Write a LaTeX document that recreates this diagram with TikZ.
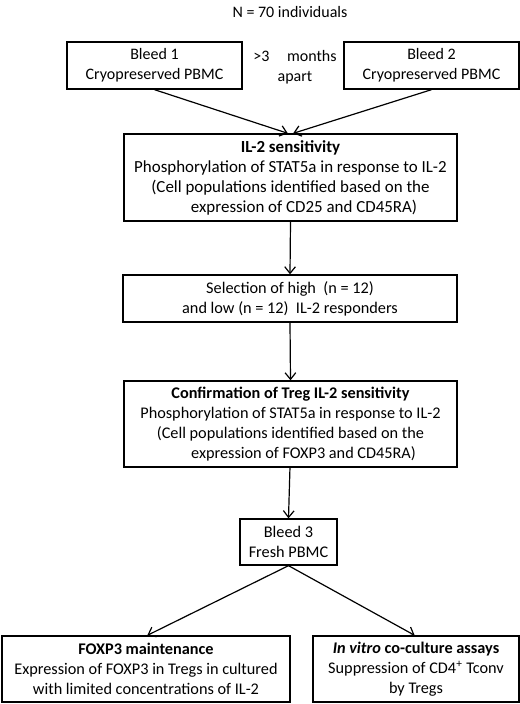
\documentclass[tikz,border=0pt]{standalone}
\usepackage{fontspec}
\setmainfont{Carlito}
\usetikzlibrary{arrows.meta,positioning}

\begin{document}
\begin{tikzpicture}[x=0.75pt,y=-0.75pt,
    box/.style={draw, line width=1pt, inner sep=0pt, align=center,
      font=\fontsize{12}{15}\selectfont},
    bigbox/.style={box, font=\fontsize{12.7}{15}\selectfont},
    midbox/.style={box, font=\fontsize{12.2}{15}\selectfont},
    flow/.style={line width=0.9pt, -{Straight Barb[length=5pt,width=8pt]}}]
    % pixel grid of the page
    \def\px{0.75pt}
    \useasboundingbox (0,0) rectangle (520,704);

    % title
    \node[font=\fontsize{12}{15}\selectfont] (title) at (290,12) {N = 70 individuals};

    % first two bleeds
    \node[box, minimum width=175*\px, minimum height=47*\px] (bleedA) at (154.5,65.5)
      {Bleed 1\\Cryopreserved PBMC};
    \node[box, minimum width=175*\px, minimum height=47*\px] (bleedB) at (431.5,65.5)
      {Bleed 2\\Cryopreserved PBMC};
    \node[align=center, inner sep=0pt, font=\fontsize{12}{15}\selectfont] (gap) at (295,67)
      {>3\hspace{1.1em}months\\apart};

    % IL-2 sensitivity
    \node[bigbox, minimum width=333*\px, minimum height=87*\px] (sens) at (290.5,177.5)
      {\textbf{IL-2 sensitivity}\\Phosphorylation of STAT5a in response to IL-2\\
       (Cell populations identified based on the\\\hspace*{1.6em}expression of CD25 and CD45RA)};

    % selection
    \node[midbox, minimum width=334*\px, minimum height=47*\px] (select) at (290,298.5)
      {Selection of high~ (n = 12)\\and low (n = 12)~ IL-2 responders};

    % confirmation
    \node[midbox, minimum width=333*\px, minimum height=86*\px] (confirm) at (290.5,424)
      {\textbf{Confirmation of Treg IL-2 sensitivity}\\Phosphorylation of STAT5a in response to IL-2\\
       (Cell populations identified based on the\\\hspace*{1.6em}expression of FOXP3 and CD45RA)};

    % third bleed
    \node[midbox, minimum width=97*\px, minimum height=46*\px] (bleedC) at (288.5,542)
      {Bleed 3\\Fresh PBMC};

    % assays
    \node[midbox, minimum width=288*\px, minimum height=66*\px] (maint) at (146,669)
      {\textbf{FOXP3 maintenance}\\Expression of FOXP3 in Tregs in cultured\\with limited concentrations of IL-2};
    \node[midbox, minimum width=206*\px, minimum height=66*\px] (coculture) at (416,669)
      {\textbf{\textit{In vitro} co-culture assays}\\Suppression of CD4\textsuperscript{+} Tconv\\by Tregs};

    % connectors
    \draw[flow] (bleedA.south) -- ([xshift=-2pt]sens.north);
    \draw[flow] (bleedB.south) -- ([xshift=2pt]sens.north);
    \draw[flow] (sens.south) -- (select.north);
    \draw[flow] (select.south) -- (confirm.north);
    \draw[flow] ([xshift=-0.4pt]confirm.south) -- (bleedC.north);
    \draw[flow] (bleedC.south) -- ([xshift=1pt]maint.north);
    \draw[flow] (bleedC.south) -- ([xshift=-1pt]coculture.north);
  \end{tikzpicture}
\end{document}
